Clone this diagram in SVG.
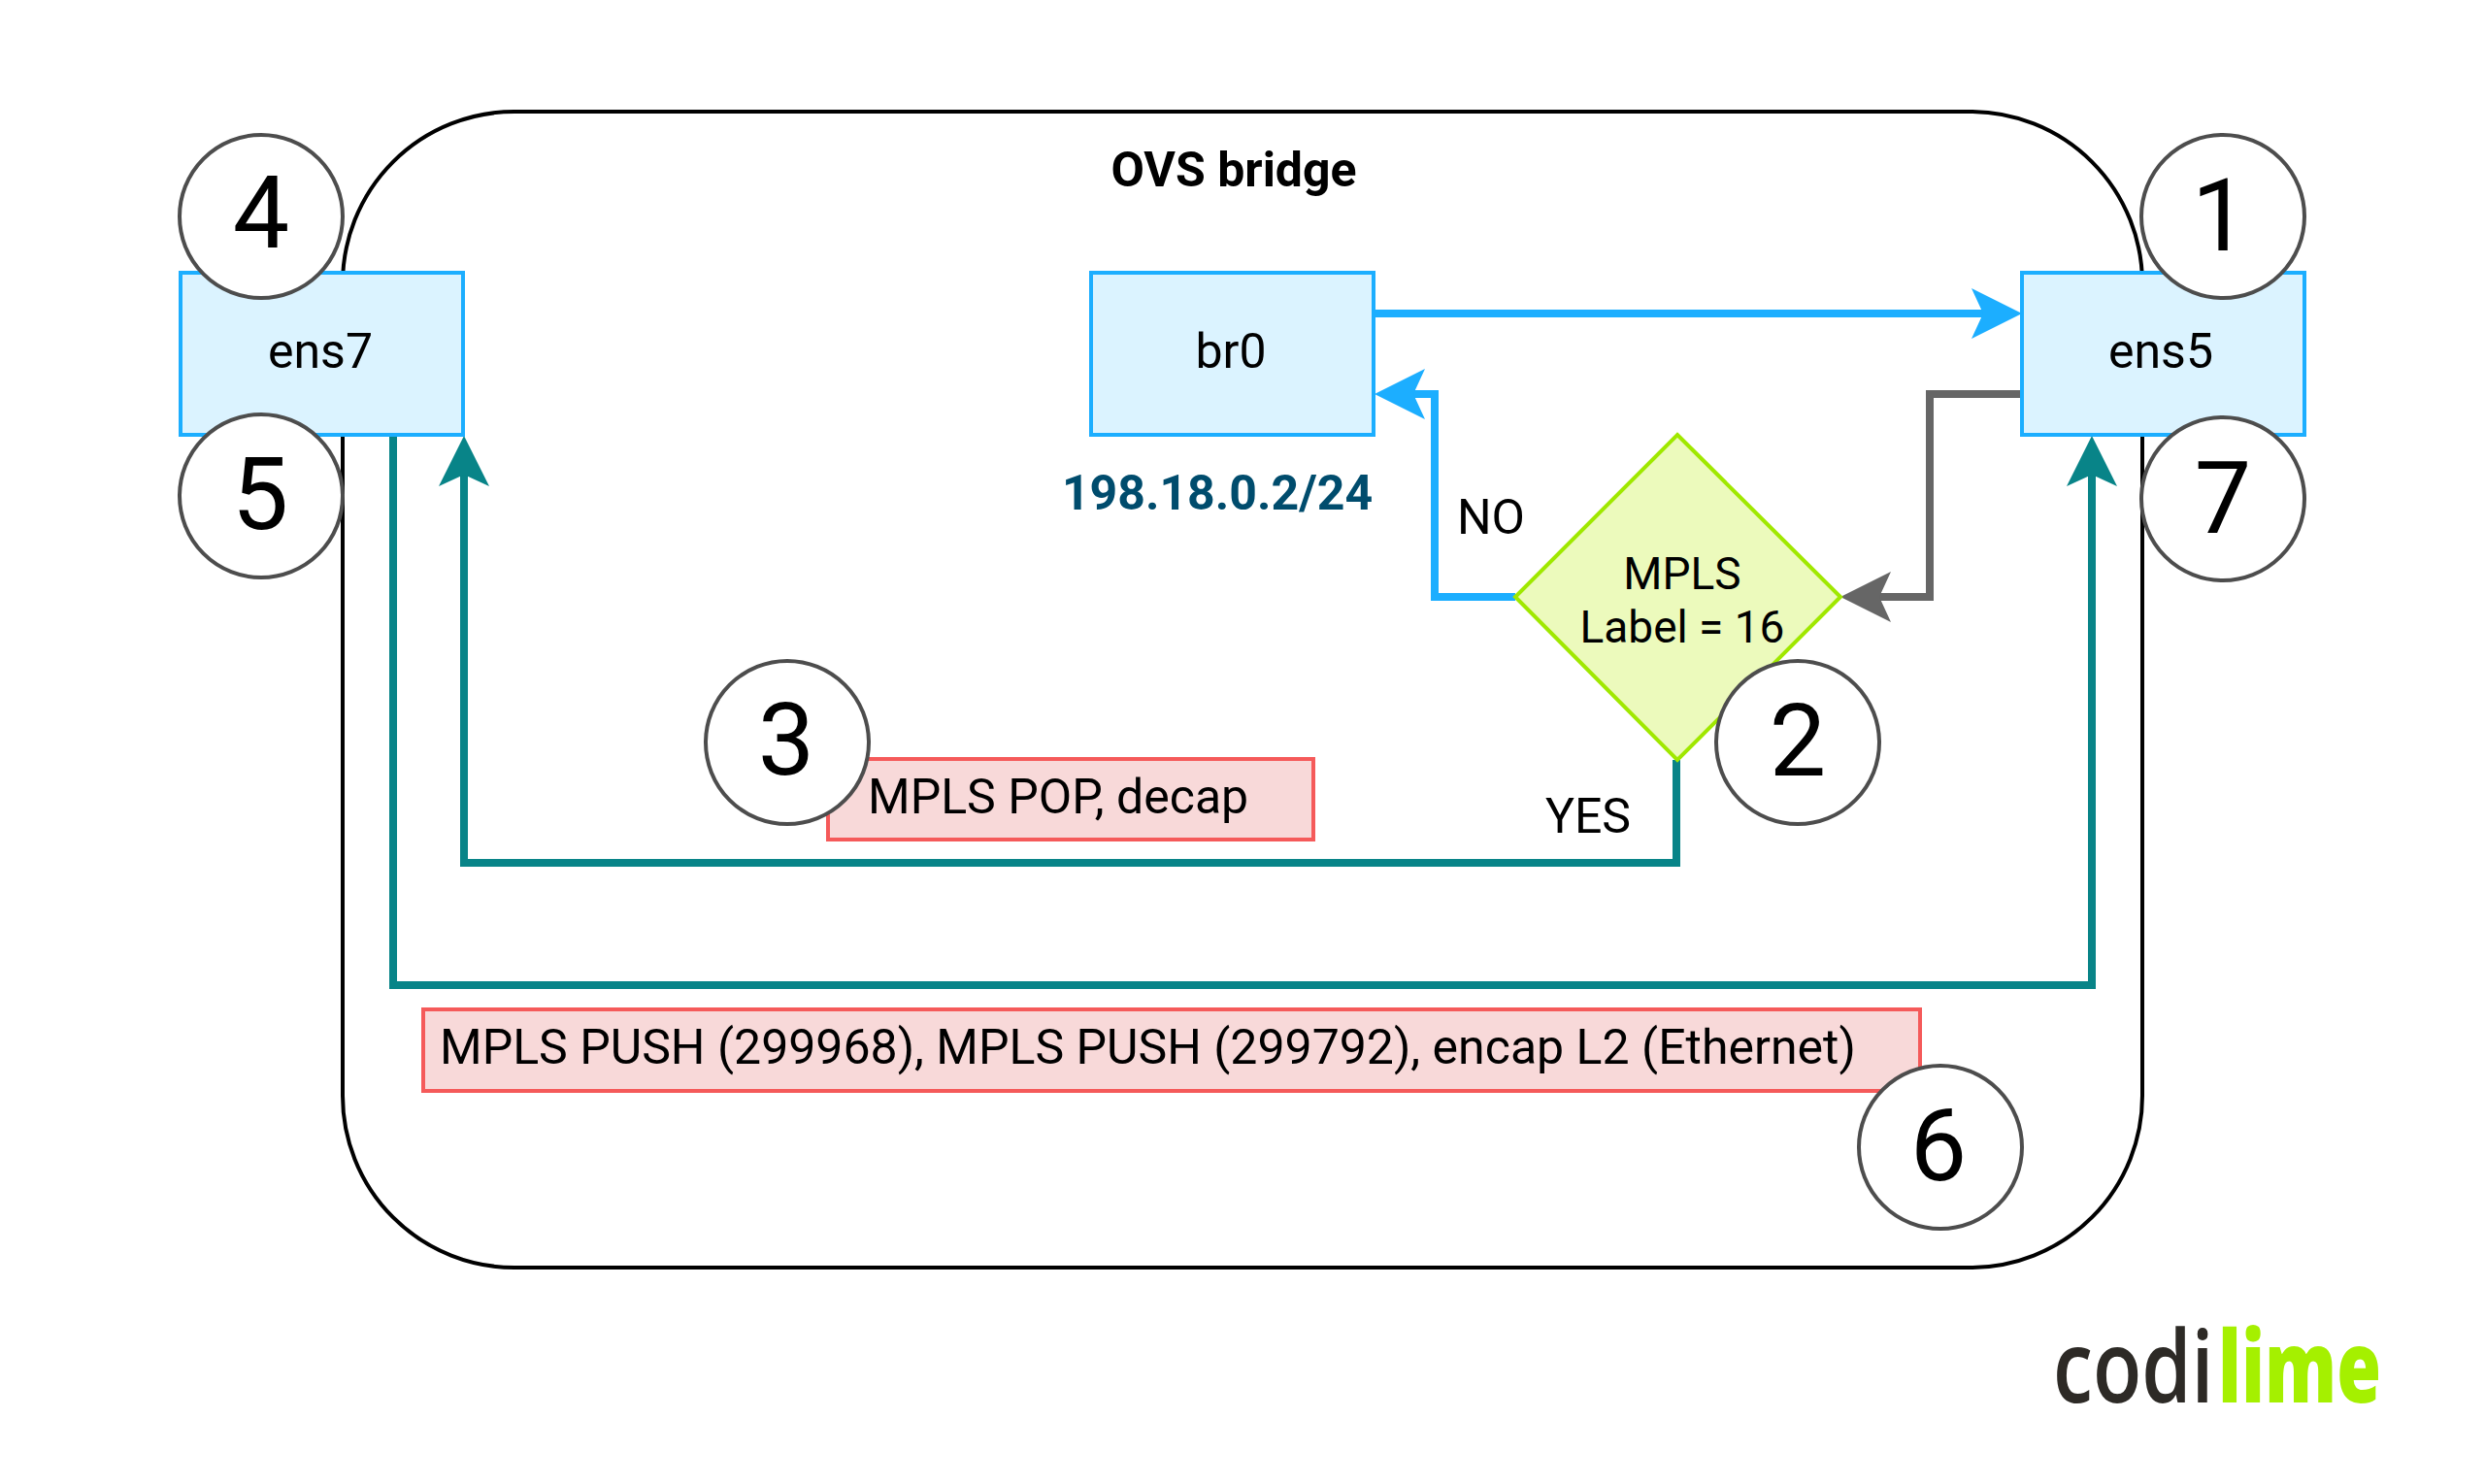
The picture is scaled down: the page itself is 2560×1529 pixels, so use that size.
<svg xmlns="http://www.w3.org/2000/svg" width="2560" height="1529" viewBox="0 0 2560 1529">
<style>
text{font-family:Roboto,"Liberation Sans",sans-serif;fill:#000;text-anchor:middle}
.t{font-size:50px}
.d{font-size:46px}
.n{font-size:104px}
.b{font-weight:700;font-size:50px}
.logo{font-family:"Open Sans",sans-serif;font-size:103px;text-anchor:start}
.box{fill:#dbf3ff;stroke:#1caeff;stroke-width:4}
.red{fill:#f8d9d9;stroke:#f55a5a;stroke-width:4}
.c{fill:#fff;stroke:#4d4d4d;stroke-width:4}
.l{fill:none;stroke-width:8;stroke-linejoin:miter}
.blue{stroke:#1caeff}.teal{stroke:#088488}.gray{stroke:#666}
</style>
<defs>
<marker id="ab" markerUnits="userSpaceOnUse" markerWidth="56" markerHeight="56" refX="20" refY="26" orient="auto" viewBox="0 0 56 52"><path d="M52 26L0 0L12 26L0 52Z" fill="#1caeff"/></marker>
<marker id="at" markerUnits="userSpaceOnUse" markerWidth="56" markerHeight="56" refX="20" refY="26" orient="auto" viewBox="0 0 56 52"><path d="M52 26L0 0L12 26L0 52Z" fill="#088488"/></marker>
<marker id="ag" markerUnits="userSpaceOnUse" markerWidth="56" markerHeight="56" refX="20" refY="26" orient="auto" viewBox="0 0 56 52"><path d="M52 26L0 0L12 26L0 52Z" fill="#666"/></marker>
</defs>
<rect width="2560" height="1529" fill="#fff"/>
<g id="ovs-bridge"><rect x="353" y="115" width="1854" height="1191" rx="177" ry="177" fill="#fff" stroke="#000" stroke-width="4"/><text class="b" x="1271" y="192">OVS bridge</text></g>
<g id="connectors">
<path class="l blue" d="M1416 323H2051" marker-end="url(#ab)"/>
<path class="l blue" d="M1561 615H1478V406H1448" marker-end="url(#ab)"/>
<path class="l gray" d="M2083 406H1988V615H1928" marker-end="url(#ag)"/>
<path class="l teal" d="M1727 783V889H478V481" marker-end="url(#at)"/>
<path class="l teal" d="M405 449V1015H2155V481" marker-end="url(#at)"/>
</g>
<g id="ens7"><rect class="box" x="186" y="281" width="291" height="167"/><text class="t" x="330" y="379">ens7</text></g>
<g id="br0"><rect class="box" x="1124" y="281" width="291" height="167"/><text class="t" x="1268" y="379">br0</text></g>
<g id="ens5"><rect class="box" x="2083" y="281" width="291" height="167"/><text class="t" x="2226" y="379">ens5</text></g>
<g id="ip"><text class="b" x="1254" y="525" style="fill:#004c6d">198.18.0.2/24</text></g>
<g id="decision"><path d="M1728 448L1896 615L1728 783L1561 615Z" fill="#ecfabc" stroke="#a0e800" stroke-width="4"/><text class="d" x="1733" y="607">MPLS</text><text class="d" x="1733" y="662">Label = 16</text></g>
<g id="label-no"><text class="t" x="1536" y="550">NO</text></g>
<g id="label-yes"><text class="t" x="1636" y="858">YES</text></g>
<g id="pop"><rect class="red" x="853" y="782" width="500" height="83"/><text class="t" x="894" y="838" style="text-anchor:start">MPLS POP, decap</text></g>
<g id="push"><rect class="red" x="436" y="1040" width="1542" height="84"/><text class="t" x="453" y="1096" style="text-anchor:start">MPLS PUSH (299968), MPLS PUSH (299792), encap L2 (Ethernet)</text></g>
<g id="n1"><circle class="c" cx="2290" cy="223" r="84"/><text class="n" x="2287" y="258">1</text></g>
<g id="n2"><circle class="c" cx="1852" cy="765" r="84"/><text class="n" x="1852" y="799">2</text></g>
<g id="n3"><circle class="c" cx="811" cy="765" r="84"/><text class="n" x="810" y="798">3</text></g>
<g id="n4"><circle class="c" cx="269" cy="223" r="84"/><text class="n" x="269" y="255">4</text></g>
<g id="n5"><circle class="c" cx="269" cy="511" r="84"/><text class="n" x="268" y="545">5</text></g>
<g id="n6"><circle class="c" cx="1999" cy="1182" r="84"/><text class="n" x="1997" y="1216">6</text></g>
<g id="n7"><circle class="c" cx="2290" cy="514" r="84"/><text class="n" x="2290" y="549">7</text></g>
<g id="logo"><text class="logo" transform="translate(2115 1445) scale(.8 1)" style="font-weight:600;fill:#2d2a26">codi</text><text class="logo" transform="translate(2285 1445) scale(.72 1)" style="font-weight:800;fill:#a5f000">lime</text></g>
</svg>
